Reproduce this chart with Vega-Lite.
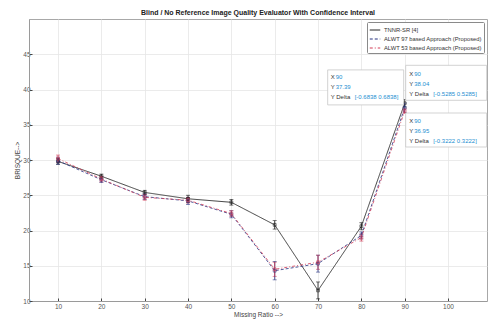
{
  "$schema": "https://vega.github.io/schema/vega-lite/v6.json",
  "width": 458,
  "height": 282,
  "autosize": {"type": "none"},
  "padding": {"left": 29, "top": 19, "right": 1, "bottom": 23},
  "background": "white",
  "title": {"text": "Blind / No Reference Image Quality Evaluator With Confidence Interval", "fontSize": 7, "fontWeight": "bold", "font": "Liberation Sans", "color": "#222222", "offset": 3, "anchor": "middle"},
  "config": {
    "font": "Liberation Sans",
    "view": {"stroke": "#a8a8a8", "strokeWidth": 1},
    "axis": {"labelFontSize": 6.5, "labelColor": "#555555", "titleFontSize": 6.5, "titleFontWeight": "normal", "titleColor": "#444444", "gridColor": "#e6e6e6", "gridWidth": 0.8, "domainColor": "#9a9a9a", "tickColor": "#444444", "ticks": true, "tickSize": -3, "labelFont": "Liberation Sans", "titleFont": "Liberation Sans"},
    "legend": {"labelFontSize": 5.8, "labelColor": "#333333", "labelFont": "Liberation Sans", "strokeColor": "#8a8a8a", "fillColor": "white", "padding": 2, "rowPadding": 0, "symbolType": "stroke", "symbolSize": 110, "symbolStrokeWidth": 1, "labelLimit": 300, "labelOffset": 3, "offset": 3, "cornerRadius": 1}
  },
  "datasets": {
    "series": [
      {"series": "TNNR-SR [4]", "ratio": 10, "brisque": 29.8, "err": 0.4},
      {"series": "TNNR-SR [4]", "ratio": 20, "brisque": 27.7, "err": 0.3},
      {"series": "TNNR-SR [4]", "ratio": 30, "brisque": 25.4, "err": 0.3},
      {"series": "TNNR-SR [4]", "ratio": 40, "brisque": 24.5, "err": 0.5},
      {"series": "TNNR-SR [4]", "ratio": 50, "brisque": 24.0, "err": 0.4},
      {"series": "TNNR-SR [4]", "ratio": 60, "brisque": 20.8, "err": 0.6},
      {"series": "TNNR-SR [4]", "ratio": 70, "brisque": 11.5, "err": 1.2},
      {"series": "TNNR-SR [4]", "ratio": 80, "brisque": 20.6, "err": 0.5},
      {"series": "TNNR-SR [4]", "ratio": 90, "brisque": 38.04, "err": 0.5285},
      {"series": "ALWT 97 based Approach (Proposed)", "ratio": 10, "brisque": 29.9, "err": 0.5},
      {"series": "ALWT 97 based Approach (Proposed)", "ratio": 20, "brisque": 27.2, "err": 0.4},
      {"series": "ALWT 97 based Approach (Proposed)", "ratio": 30, "brisque": 24.8, "err": 0.4},
      {"series": "ALWT 97 based Approach (Proposed)", "ratio": 40, "brisque": 24.2, "err": 0.5},
      {"series": "ALWT 97 based Approach (Proposed)", "ratio": 50, "brisque": 22.3, "err": 0.5},
      {"series": "ALWT 97 based Approach (Proposed)", "ratio": 60, "brisque": 14.3, "err": 1.3},
      {"series": "ALWT 97 based Approach (Proposed)", "ratio": 70, "brisque": 15.3, "err": 1.2},
      {"series": "ALWT 97 based Approach (Proposed)", "ratio": 80, "brisque": 19.3, "err": 0.5},
      {"series": "ALWT 97 based Approach (Proposed)", "ratio": 90, "brisque": 37.39, "err": 0.6838},
      {"series": "ALWT 53 based Approach (Proposed)", "ratio": 10, "brisque": 30.2, "err": 0.5},
      {"series": "ALWT 53 based Approach (Proposed)", "ratio": 20, "brisque": 27.3, "err": 0.4},
      {"series": "ALWT 53 based Approach (Proposed)", "ratio": 30, "brisque": 24.7, "err": 0.4},
      {"series": "ALWT 53 based Approach (Proposed)", "ratio": 40, "brisque": 24.3, "err": 0.4},
      {"series": "ALWT 53 based Approach (Proposed)", "ratio": 50, "brisque": 22.4, "err": 0.4},
      {"series": "ALWT 53 based Approach (Proposed)", "ratio": 60, "brisque": 14.5, "err": 1.0},
      {"series": "ALWT 53 based Approach (Proposed)", "ratio": 70, "brisque": 15.5, "err": 1.0},
      {"series": "ALWT 53 based Approach (Proposed)", "ratio": 80, "brisque": 19.0, "err": 0.5},
      {"series": "ALWT 53 based Approach (Proposed)", "ratio": 90, "brisque": 36.95, "err": 0.3222}
    ],
    "tips": [
      {"series": "TNNR-SR [4]", "ratio": 90, "brisque": 38.04, "delta": "[-0.5285 0.5285]"},
      {"series": "ALWT 97 based Approach (Proposed)", "ratio": 90, "brisque": 37.39, "delta": "[-0.6838 0.6838]"},
      {"series": "ALWT 53 based Approach (Proposed)", "ratio": 90, "brisque": 36.95, "delta": "[-0.3222 0.3222]"}
    ]
  },
  "encoding": {
    "x": {"field": "ratio", "type": "quantitative", "scale": {"domain": [3.3, 109], "nice": false, "zero": false}, "axis": {"values": [10, 20, 30, 40, 50, 60, 70, 80, 90, 100], "title": "Missing Ratio -->", "labelPadding": 5, "titlePadding": 2}},
    "y": {"field": "brisque", "type": "quantitative", "scale": {"domain": [10, 50], "nice": false, "zero": false}, "axis": {"values": [10, 15, 20, 25, 30, 35, 40, 45], "title": "BRISQUE-->", "labelPadding": 2, "titlePadding": 2}}
  },
  "layer": [
    {
      "data": {"name": "series"},
      "mark": {"type": "line", "strokeWidth": 0.8},
      "encoding": {
        "color": {"field": "series", "type": "nominal", "sort": null, "scale": {"domain": ["TNNR-SR [4]", "ALWT 97 based Approach (Proposed)", "ALWT 53 based Approach (Proposed)"], "range": ["#111111", "#25307f", "#d23a55"]}, "legend": {"title": null, "orient": "top-right", "symbolType": "stroke"}},
        "strokeDash": {"field": "series", "type": "nominal", "sort": null, "scale": {"domain": ["TNNR-SR [4]", "ALWT 97 based Approach (Proposed)", "ALWT 53 based Approach (Proposed)"], "range": [[1, 0], [3, 2], [3, 2, 1, 2]]}, "legend": {"title": null, "orient": "top-right", "symbolType": "stroke"}}
      }
    },
    {
      "data": {"name": "series"},
      "mark": {"type": "errorbar", "ticks": {"size": 4}, "thickness": 0.8},
      "encoding": {
        "yError": {"field": "err"},
        "color": {"field": "series", "type": "nominal", "legend": null}
      }
    },
    {
      "data": {"name": "series"},
      "mark": {"type": "point", "shape": "square", "size": 8, "strokeWidth": 0.8, "filled": false},
      "encoding": {
        "color": {"field": "series", "type": "nominal", "legend": null}
      }
    },
    {
      "data": {"name": "tips"},
      "transform": [{"filter": "datum.series === 'TNNR-SR [4]'"}],
      "layer": [
        {"mark": {"type": "rect", "fill": "white", "stroke": "#c8c8c8", "strokeWidth": 0.8, "xOffset": 1, "x2Offset": 82, "yOffset": -38, "y2Offset": -3}, "encoding": {"x2": {"field": "ratio"}, "y2": {"field": "brisque"}}},
        {"mark": {"type": "text", "align": "left", "baseline": "middle", "dx": 4.6, "dy": -29.3, "lineHeight": 10, "fontSize": 6, "color": "#333333"}, "encoding": {"text": {"value": ["X", "Y", "Y Delta"]}}},
        {"mark": {"type": "text", "align": "left", "baseline": "middle", "dx": 9.6, "dy": -29.3, "fontSize": 6, "color": "#1d8fd1"}, "encoding": {"text": {"field": "ratio", "type": "quantitative", "format": "d"}}},
        {"mark": {"type": "text", "align": "left", "baseline": "middle", "dx": 9.6, "dy": -19.3, "fontSize": 6, "color": "#1d8fd1"}, "encoding": {"text": {"field": "brisque", "type": "quantitative", "format": ".2f"}}},
        {"mark": {"type": "text", "align": "left", "baseline": "middle", "dx": 28.5, "dy": -9.3, "fontSize": 6, "color": "#1d8fd1"}, "encoding": {"text": {"field": "delta", "type": "nominal"}}}
      ]
    },
    {
      "data": {"name": "tips"},
      "transform": [{"filter": "datum.series === 'ALWT 97 based Approach (Proposed)'"}],
      "layer": [
        {"mark": {"type": "rect", "fill": "white", "stroke": "#c8c8c8", "strokeWidth": 0.8, "xOffset": -77, "x2Offset": -1, "yOffset": -38, "y2Offset": -3}, "encoding": {"x2": {"field": "ratio"}, "y2": {"field": "brisque"}}},
        {"mark": {"type": "text", "align": "left", "baseline": "middle", "dx": -74, "dy": -30.6, "lineHeight": 10, "fontSize": 6, "color": "#333333"}, "encoding": {"text": {"value": ["X", "Y", "Y Delta"]}}},
        {"mark": {"type": "text", "align": "left", "baseline": "middle", "dx": -69, "dy": -30.6, "fontSize": 6, "color": "#1d8fd1"}, "encoding": {"text": {"field": "ratio", "type": "quantitative", "format": "d"}}},
        {"mark": {"type": "text", "align": "left", "baseline": "middle", "dx": -69, "dy": -20.6, "fontSize": 6, "color": "#1d8fd1"}, "encoding": {"text": {"field": "brisque", "type": "quantitative", "format": ".2f"}}},
        {"mark": {"type": "text", "align": "left", "baseline": "middle", "dx": -50, "dy": -10.6, "fontSize": 6, "color": "#1d8fd1"}, "encoding": {"text": {"field": "delta", "type": "nominal"}}}
      ]
    },
    {
      "data": {"name": "tips"},
      "transform": [{"filter": "datum.series === 'ALWT 53 based Approach (Proposed)'"}],
      "layer": [
        {"mark": {"type": "rect", "fill": "white", "stroke": "#c8c8c8", "strokeWidth": 0.8, "xOffset": 1, "x2Offset": 82, "yOffset": 2, "y2Offset": 36}, "encoding": {"x2": {"field": "ratio"}, "y2": {"field": "brisque"}}},
        {"mark": {"type": "text", "align": "left", "baseline": "middle", "dx": 4.6, "dy": 9.7, "lineHeight": 10, "fontSize": 6, "color": "#333333"}, "encoding": {"text": {"value": ["X", "Y", "Y Delta"]}}},
        {"mark": {"type": "text", "align": "left", "baseline": "middle", "dx": 9.6, "dy": 9.7, "fontSize": 6, "color": "#1d8fd1"}, "encoding": {"text": {"field": "ratio", "type": "quantitative", "format": "d"}}},
        {"mark": {"type": "text", "align": "left", "baseline": "middle", "dx": 9.6, "dy": 19.7, "fontSize": 6, "color": "#1d8fd1"}, "encoding": {"text": {"field": "brisque", "type": "quantitative", "format": ".2f"}}},
        {"mark": {"type": "text", "align": "left", "baseline": "middle", "dx": 28.5, "dy": 29.7, "fontSize": 6, "color": "#1d8fd1"}, "encoding": {"text": {"field": "delta", "type": "nominal"}}}
      ]
    }
  ]
}
